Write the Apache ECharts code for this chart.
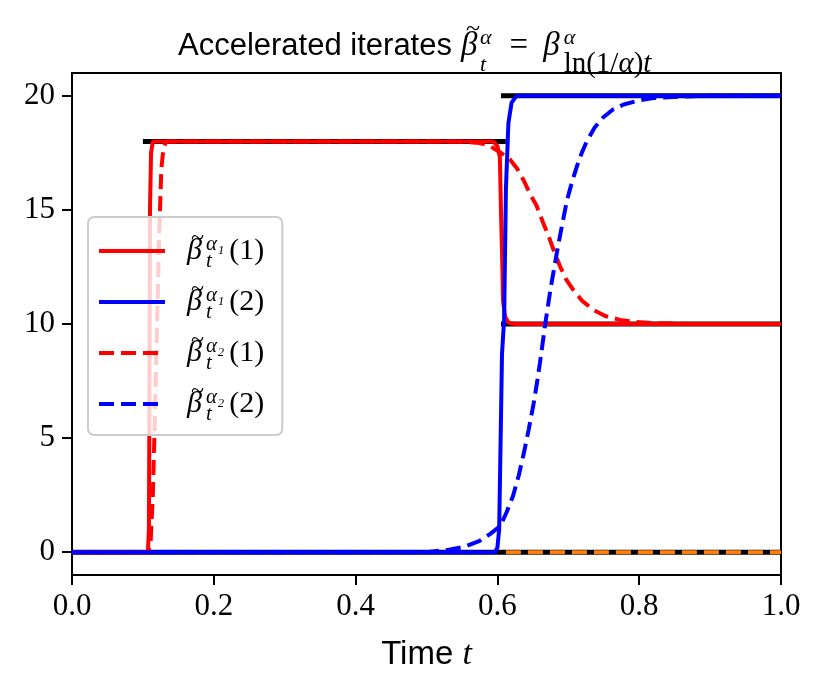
<!DOCTYPE html>
<html><head><meta charset="utf-8">
<script src="https://cdn.jsdelivr.net/npm/echarts@6/dist/echarts.min.js"></script>
<style>html,body{margin:0;padding:0;background:#fff}#c{width:822px;height:693px}</style>
</head><body><div id="c"></div>
<script>
// ---- data ----
const xTicks = [0, 0.2, 0.4, 0.6, 0.8, 1.0];
const yTicks = [0, 5, 10, 15, 20];
const seriesNames = ['β̃t^α1(1)', 'β̃t^α1(2)', 'β̃t^α2(1)', 'β̃t^α2(2)'];
const legendLabels = [
  '{g0| }{b0|β}{g2| }{tl|~}{sb0|t}{sp|α₁}{n|(1)}',
  '{g0| }{b0|β}{g2| }{tl|~}{sb0|t}{sp|α₁}{n|(2)}',
  '{g0| }{b0|β}{g2| }{tl|~}{sb0|t}{sp|α₂}{n|(1)}',
  '{g0| }{b0|β}{g2| }{tl|~}{sb0|t}{sp|α₂}{n|(2)}'
];
// alpha1, coordinate 1 (red solid)
const alpha1Coord1 = [[0,0],[0.107,0],[0.1085,1],[0.109,5],[0.1095,10],[0.110,15],[0.1115,17.5],[0.114,18],[0.594,18],[0.600,17.8],[0.6035,17.3],[0.605,15],[0.607,12.5],[0.608,11],[0.611,10.3],[0.616,10.05],[0.625,10],[1,10]];
// alpha1, coordinate 2 (blue solid)
const alpha1Coord2 = [[0,0],[0.597,0],[0.600,0.2],[0.6025,1],[0.6065,8.7],[0.6095,10.2],[0.612,15.9],[0.6155,18.8],[0.620,19.7],[0.627,20],[1,20]];
// alpha2, coordinate 1 (red dashed)
const alpha2Coord1 = [[0,0],[0.108,0],[0.111,0.5],[0.114,2.5],[0.117,6],[0.120,10],[0.123,14],[0.126,16.8],[0.129,17.7],[0.133,18],[0.54,18],[0.56,17.97],[0.575,17.93],[0.585,17.85],[0.594,17.71],[0.605,17.5],[0.618,17.2],[0.628,16.8],[0.637,16.3],[0.646,15.7],[0.655,15.2],[0.665,14.4],[0.674,13.7],[0.681,13.1],[0.688,12.55],[0.697,11.95],[0.707,11.5],[0.72,11.0],[0.735,10.63],[0.752,10.35],[0.773,10.18],[0.795,10.09],[0.82,10.04],[0.87,10],[1,10]];
// alpha2, coordinate 2 (blue dashed)
const alpha2Coord2 = [[0,0],[0.50,0],[0.53,0.1],[0.555,0.25],[0.575,0.5],[0.59,0.8],[0.604,1.15],[0.613,1.75],[0.622,2.46],[0.630,3.35],[0.637,4.3],[0.644,5.35],[0.651,6.5],[0.656,7.45],[0.66,8.3],[0.664,9.2],[0.667,9.9],[0.675,11.55],[0.684,13.15],[0.691,14.3],[0.698,15.4],[0.705,16.2],[0.712,16.9],[0.719,17.5],[0.726,18.0],[0.737,18.6],[0.749,19.05],[0.763,19.4],[0.778,19.62],[0.80,19.8],[0.82,19.9],[0.858,19.97],[0.9,20],[1,20]];
// limiting saddle values (black) and extra zero coordinate (orange)
const saddleZero = [[0,0],[1,0]];
const saddle18 = [[0.1,18],[0.612,18]];
const saddle20 = [[0.605,20],[1,20]];
const saddle10 = [[0.605,10],[1,10]];
const orangeZero = [[0.612,0],[1,0]];

const SERIF = 'Liberation Serif';
const SANS = 'Liberation Sans';

function blackLine(data) {
  return { type: 'line', data, symbol: 'none', silent: true,
    lineStyle: { color: '#000', width: 5, cap: 'butt' }, z: 2 };
}
function curve(name, data, color, dashed) {
  return { name, type: 'line', data, symbol: 'none', showSymbol: false,
    lineStyle: { color, width: 4, type: dashed ? [15, 7] : 'solid' },
    itemStyle: { color }, z: 3 };
}
const tk = (o) => Object.assign({ color: '#000', fontWeight: 'normal', fontFamily: SERIF }, o);

const chart = echarts.init(document.getElementById('c'));
chart.setOption({
  animation: false,
  backgroundColor: '#fff',
  title: {
    text: '{s|Accelerated iterates}{g1| }{b0|β}{g2| }{tl|~}{sb0|t}{sp|α}{r|=}{m|β}{sp0|α}{sbr|ln(1/}{sbi|α}{sbr|)}{sbi|t}',
    left: 178, top: 19, textAlign: 'left', padding: 0,
    textStyle: {
      fontWeight: 'normal',
      rich: {
        s: tk({ fontFamily: SANS, fontSize: 31, lineHeight: 54 }),
        g1: tk({ fontSize: 20, width: 9 }),
        g2: tk({ fontSize: 20, width: 5 }),
        b0: tk({ fontStyle: 'italic', fontSize: 33, lineHeight: 54, width: 0 }),
        tl: tk({ fontSize: 26, height: 20, verticalAlign: 'top' }),
        m: tk({ fontStyle: 'italic', fontSize: 33, lineHeight: 54, padding: [0, 4, 0, 0] }),
        r: tk({ fontSize: 33, lineHeight: 54, padding: [0, 15, 0, 12] }),
        sp: tk({ fontStyle: 'italic', fontSize: 22, height: 38, verticalAlign: 'top', padding: [0, 6, 0, 0] }),
        sp0: tk({ fontStyle: 'italic', fontSize: 22, height: 38, verticalAlign: 'top', width: 0 }),
        sb0: tk({ fontStyle: 'italic', fontSize: 22, height: 16, verticalAlign: 'bottom', width: 0 }),
        sbr: tk({ fontSize: 29, height: 18, verticalAlign: 'bottom' }),
        sbi: tk({ fontStyle: 'italic', fontSize: 29, height: 18, verticalAlign: 'bottom' })
      }
    }
  },
  grid: { left: 72, right: 41, top: 73, bottom: 118, show: true, borderColor: '#000', borderWidth: 2, backgroundColor: 'transparent' },
  legend: {
    data: seriesNames, orient: 'vertical', left: 88, top: 217,
    padding: [10, 18, 10, 9], itemWidth: 66, itemHeight: 14, itemGap: 6,
    backgroundColor: 'rgba(255,255,255,0.8)', borderColor: '#cccccc', borderWidth: 2, borderRadius: 6,
    selectedMode: false,
    itemStyle: { opacity: 0 },
    lineStyle: { width: 4 },
    formatter: n => legendLabels[seriesNames.indexOf(n)],
    textStyle: {
      rich: {
        g0: tk({ fontSize: 20, width: 17 }),
        g2: tk({ fontSize: 20, width: 4 }),
        b0: tk({ fontStyle: 'italic', fontSize: 30, lineHeight: 44, width: 0 }),
        tl: tk({ fontSize: 24, height: 20, verticalAlign: 'top', padding: [0, 2, 0, 0] }),
        sb0: tk({ fontStyle: 'italic', fontSize: 21, height: 23, verticalAlign: 'bottom', width: 0 }),
        sp: tk({ fontStyle: 'italic', fontSize: 21, height: 30, verticalAlign: 'top' }),
        n: tk({ fontSize: 30, lineHeight: 44, padding: [0, 0, 0, 5] })
      }
    }
  },
  xAxis: {
    type: 'value', min: 0, max: 1, interval: 0.2,
    axisLine: { show: true, onZero: false, lineStyle: { color: '#000', width: 2 } },
    axisTick: { show: true, inside: false, length: 10, lineStyle: { color: '#000', width: 2 } },
    axisLabel: { fontFamily: SERIF, fontSize: 31, color: '#000', margin: 16,
      customValues: xTicks, formatter: v => v.toFixed(1) },
    splitLine: { show: false },
    name: '{s|Time }{m|t}', nameLocation: 'middle', nameGap: 60,
    nameTextStyle: { rich: {
      s: tk({ fontFamily: SANS, fontSize: 33, lineHeight: 40 }),
      m: tk({ fontStyle: 'italic', fontSize: 34, lineHeight: 40 })
    } }
  },
  yAxis: {
    type: 'value', min: -1, max: 21,
    axisLine: { show: true, onZero: false, lineStyle: { color: '#000', width: 2 } },
    axisTick: { show: true, inside: false, length: 10, customValues: yTicks, lineStyle: { color: '#000', width: 2 } },
    axisLabel: { fontFamily: SERIF, fontSize: 31, color: '#000', margin: 17, customValues: yTicks },
    splitLine: { show: false }
  },
  series: [
    blackLine(saddleZero),
    blackLine(saddle18),
    blackLine(saddle20),
    blackLine(saddle10),
    { type: 'line', data: orangeZero, symbol: 'none', silent: true,
      lineStyle: { color: '#ff7f0e', width: 4, type: [15, 7], cap: 'butt' }, z: 2 },
    curve(seriesNames[0], alpha1Coord1, '#ff0000', false),
    curve(seriesNames[1], alpha1Coord2, '#0000ff', false),
    curve(seriesNames[2], alpha2Coord1, '#ff0000', true),
    curve(seriesNames[3], alpha2Coord2, '#0000ff', true)
  ]
});
</script>
</body></html>
